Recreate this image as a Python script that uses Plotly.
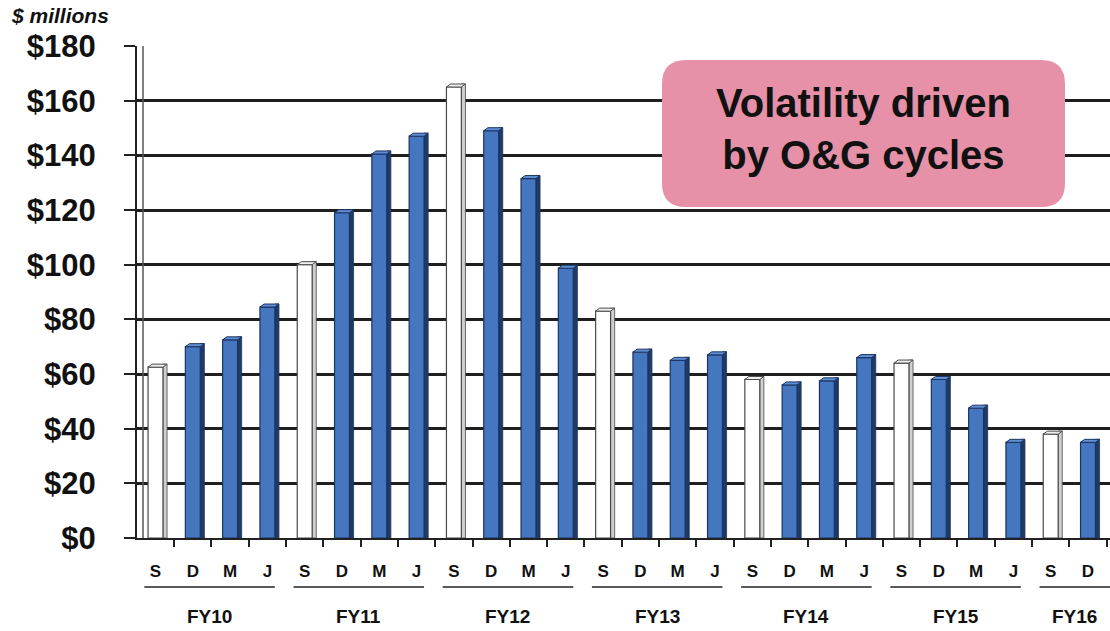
import plotly.graph_objects as go

# ---- data ----
quarters = ["S", "D", "M", "J"] * 6 + ["S", "D"]
fiscal_years = ["FY10", "FY11", "FY12", "FY13", "FY14", "FY15", "FY16"]
values = [62.5, 70, 72.5, 84.5,
          100, 119, 140.5, 147,
          165, 149, 131.5, 98.7,
          83, 68, 65, 67,
          58, 56, 57.5, 66,
          64, 58, 47.5, 35,
          38, 35]
y_ticks = [0, 20, 40, 60, 80, 100, 120, 140, 160, 180]
y_tick_text = ["$" + str(v) for v in y_ticks]

FONT = "Liberation Sans, Arial, sans-serif"
n = len(values)
idx = list(range(n))
is_s = [q == "S" for q in quarters]

front_colors = ["#ffffff" if s else "#4477c0" for s in is_s]
front_lines = ["#4a4a4a" if s else "#1c3360" for s in is_s]
side_colors = ["#cfcfcf" if s else "#203a68" for s in is_s]

W_FRONT = 0.40
W_SIDE = 0.11
DY = 1.1

fig = go.Figure()

# side faces
fig.add_trace(go.Bar(
    x=[i + W_FRONT / 2 + W_SIDE / 2 for i in idx],
    y=[v + DY for v in values],
    width=W_SIDE,
    marker=dict(color=side_colors, line=dict(color=front_lines, width=0.8)),
    hoverinfo="skip", showlegend=False))

# front faces
fig.add_trace(go.Bar(
    x=idx, y=values, width=W_FRONT,
    marker=dict(color=front_colors, line=dict(color=front_lines, width=1.2)),
    showlegend=False))

# top faces
for group_s in (True, False):
    xs, ys = [], []
    for i, v, s in zip(idx, values, is_s):
        if s != group_s:
            continue
        xs += [i - W_FRONT / 2, i + W_FRONT / 2, i + W_FRONT / 2 + W_SIDE,
               i - W_FRONT / 2 + W_SIDE, i - W_FRONT / 2, None]
        ys += [v, v, v + DY, v + DY, v, None]
    fig.add_trace(go.Scatter(
        x=xs, y=ys, mode="lines", fill="toself",
        fillcolor="#f0f0f0" if group_s else "#5f90d6",
        line=dict(color="#4a4a4a" if group_s else "#1c3360", width=1),
        hoverinfo="skip", showlegend=False))

# layout geometry (pixels)
L, R, T, B = 137, 0, 46, 93
PW, PH = 1110 - L - R, 631 - T - B
CAT0_PX, CAT_STEP = 155.5, 37.3
x_min = (L - CAT0_PX) / CAT_STEP
x_max = (1110 - CAT0_PX) / CAT_STEP


def px_x(px):
    return (px - L) / PW


def px_y(py):
    return (631 - B - py) / PH


shapes = []
annotations = []

# second wall line
shapes.append(dict(type="line", xref="paper", yref="paper",
                   x0=px_x(143), x1=px_x(143), y0=0, y1=1,
                   line=dict(color="#555555", width=1.5)))

# fiscal-year group lines & labels
for g, fy in enumerate(fiscal_years):
    x0 = 4 * g - 0.3
    x1 = min(4 * g + 3.2, x_max)
    shapes.append(dict(type="line", xref="x", yref="paper",
                       x0=x0, x1=x1, y0=px_y(587), y1=px_y(587),
                       line=dict(color="#222222", width=1.5)))
    annotations.append(dict(xref="x", yref="paper", x=(x0 + x1) / 2, y=px_y(616),
                            text="<b>" + fy + "</b>", showarrow=False,
                            font=dict(family=FONT, size=19, color="#111111"),
                            xanchor="center", yanchor="middle"))

# rounded callout box
bx0, bx1, by0, by1 = px_x(662), px_x(1065), px_y(207), px_y(60)
rx, ry = 24 / PW, 24 / PH
path = (f"M {bx0+rx},{by0} L {bx1-rx},{by0} Q {bx1},{by0} {bx1},{by0+ry} "
        f"L {bx1},{by1-ry} Q {bx1},{by1} {bx1-rx},{by1} "
        f"L {bx0+rx},{by1} Q {bx0},{by1} {bx0},{by1-ry} "
        f"L {bx0},{by0+ry} Q {bx0},{by0} {bx0+rx},{by0} Z")
shapes.append(dict(type="path", xref="paper", yref="paper", path=path,
                   fillcolor="#e691a7", line=dict(width=0), layer="above"))
annotations.append(dict(xref="paper", yref="paper",
                        x=(bx0 + bx1) / 2, y=px_y(129),
                        text="<b>Volatility driven<br>by O&amp;G cycles</b>",
                        showarrow=False, align="center",
                        font=dict(family=FONT, size=40, color="#111111"),
                        xanchor="center", yanchor="middle"))

# unit label
annotations.append(dict(xref="paper", yref="paper", x=px_x(9), y=px_y(16),
                        text="<b><i>$ millions</i></b>", showarrow=False,
                        font=dict(family=FONT, size=21, color="#111111"),
                        xanchor="left", yanchor="middle"))

fig.update_layout(
    width=1110, height=631,
    margin=dict(l=L, r=R, t=T, b=B, autoexpand=False),
    paper_bgcolor="white", plot_bgcolor="white",
    barmode="overlay",
    shapes=shapes, annotations=annotations,
    font=dict(family=FONT, color="#111111"),
    xaxis=dict(range=[x_min, x_max], tickvals=idx, ticktext=quarters,
               automargin=False,
               ticks="", showgrid=False, zeroline=False,
               showline=True, linecolor="#222222", linewidth=2,
               tickfont=dict(family=FONT, size=17, color="#111111", weight="bold"),
               ticklabelstandoff=17,
               minor=dict(tick0=0.5, dtick=1, ticks="outside", ticklen=7,
                          tickwidth=1.5, tickcolor="#222222", showgrid=False)),
    yaxis=dict(range=[0, 180], tickvals=y_ticks, ticktext=y_tick_text,
               automargin=False,
               ticks="outside", ticklen=11, tickwidth=2, tickcolor="#222222",
               showgrid=True, gridcolor="#1f1f1f", gridwidth=2.8,
               zeroline=False, showline=True, linecolor="#222222", linewidth=2,
               tickfont=dict(family=FONT, size=31, color="#111111", weight="bold"),
               ticklabelstandoff=22),
)

fig.write_html("out.html",
               config={"displayModeBar": False},
               post_script="document.body.style.margin='0';"
                           "document.body.style.overflow='hidden';")
